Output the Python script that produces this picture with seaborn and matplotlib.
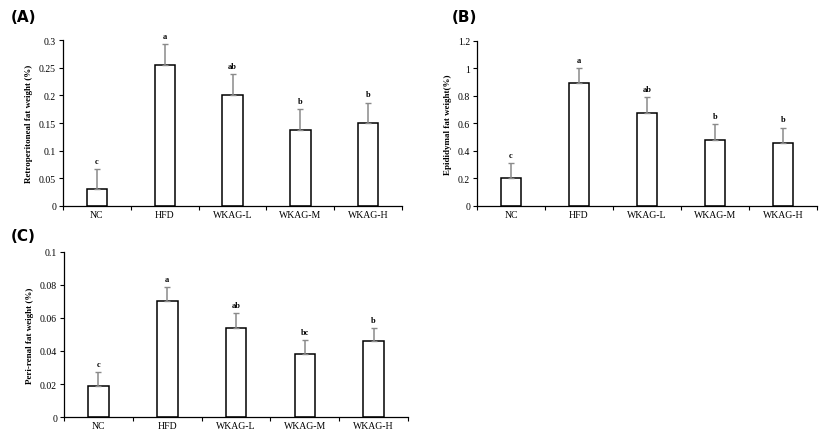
import matplotlib
matplotlib.use("Agg")
import matplotlib.pyplot as plt
import numpy as np
import pandas as pd
import seaborn as sns

groups = ["NC", "HFD", "WKAG-L", "WKAG-M", "WKAG-H"]

retro_mean = [0.03, 0.255, 0.2, 0.137, 0.15]
retro_err = [0.037, 0.038, 0.038, 0.038, 0.037]
retro_sig = ["c", "a", "ab", "b", "b"]

epi_mean = [0.2, 0.895, 0.675, 0.48, 0.455]
epi_err = [0.115, 0.11, 0.115, 0.115, 0.115]
epi_sig = ["c", "a", "ab", "b", "b"]

peri_mean = [0.019, 0.07, 0.054, 0.038, 0.046]
peri_err = [0.008, 0.0085, 0.009, 0.0085, 0.008]
peri_sig = ["c", "a", "ab", "bc", "b"]

sns.set_style("white")
plt.rcParams["font.family"] = ["Liberation Serif", "DejaVu Serif"]
plt.rcParams["text.color"] = "black"
plt.rcParams["xtick.color"] = "black"
plt.rcParams["ytick.color"] = "black"
plt.rcParams["axes.labelcolor"] = "black"

fig = plt.figure(figsize=(8.27, 4.39), dpi=100)


def draw_panel(rect, means, errs, sig, ylim, yticks, ticklabels, ylabel, tag, tagpos):
    ax = fig.add_axes(rect)
    df = pd.DataFrame({"group": groups, "value": means})
    sns.barplot(data=df, x="group", y="value", ax=ax, color="white",
                edgecolor="black", linewidth=1.1, width=0.3, errorbar=None)
    ax.errorbar(np.arange(len(groups)), means, yerr=[np.zeros(len(errs)), errs],
                fmt="none", ecolor="#8a8a8a", elinewidth=1.1, capsize=2,
                capthick=1.0, zorder=3)
    for i, (m, e, s) in enumerate(zip(means, errs, sig)):
        ax.text(i, m + e + ylim[1] * 0.025, s, ha="center", va="bottom",
                fontsize=6, fontweight="bold")
    ax.set_xlim(-0.5, len(groups) - 0.5)
    ax.set_ylim(*ylim)
    ax.set_yticks(yticks)
    ax.set_yticklabels(ticklabels, fontsize=7)
    ax.set_xticks(range(len(groups)))
    ax.set_xticklabels(groups, fontsize=7)
    ax.set_xticks(np.arange(-0.5, len(groups), 1.0), minor=True)
    ax.tick_params(axis="x", which="major", bottom=True, length=0, pad=3)
    ax.tick_params(axis="x", which="minor", bottom=True, length=3, width=0.8,
                   direction="out")
    ax.tick_params(axis="y", left=True, length=3, width=0.8, direction="out", pad=2)
    ax.set_xlabel("")
    ax.set_ylabel(ylabel, fontsize=6.5, fontweight="bold", labelpad=4)
    for sp in ["top", "right"]:
        ax.spines[sp].set_visible(False)
    for sp in ["left", "bottom"]:
        ax.spines[sp].set_color("black")
        ax.spines[sp].set_linewidth(0.9)
    fig.text(tagpos[0], tagpos[1], tag, fontsize=11, fontweight="bold",
             family="DejaVu Sans", ha="left", va="center", color="black")
    return ax


draw_panel([0.0762, 0.5285, 0.41, 0.378], retro_mean, retro_err, retro_sig,
           (0, 0.3), [0, 0.05, 0.1, 0.15, 0.2, 0.25, 0.3],
           ["0", "0.05", "0.1", "0.15", "0.2", "0.25", "0.3"],
           "Retroperitoneal fat weight (%)", "(A)", (0.013, 0.96))

draw_panel([0.5768, 0.5285, 0.411, 0.376], epi_mean, epi_err, epi_sig,
           (0, 1.2), [0, 0.2, 0.4, 0.6, 0.8, 1.0, 1.2],
           ["0", "0.2", "0.4", "0.6", "0.8", "1", "1.2"],
           "Epididymal fat weight(%)", "(B)", (0.546, 0.96))

draw_panel([0.0774, 0.0478, 0.416, 0.376], peri_mean, peri_err, peri_sig,
           (0, 0.1), [0, 0.02, 0.04, 0.06, 0.08, 0.1],
           ["0", "0.02", "0.04", "0.06", "0.08", "0.1"],
           "Peri-renal fat weight (%)", "(C)", (0.013, 0.462))

fig.savefig("out.png", dpi=100)
